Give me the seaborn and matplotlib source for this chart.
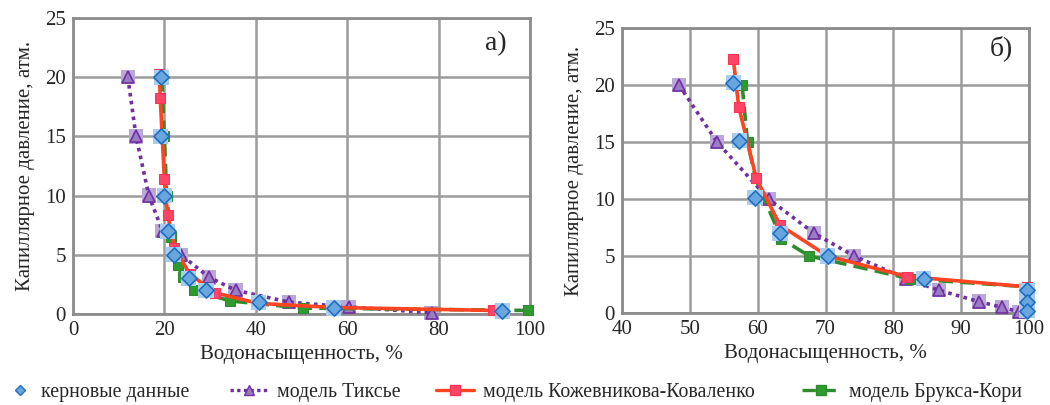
import numpy as np
import matplotlib
matplotlib.use('Agg')
import matplotlib.pyplot as plt
import seaborn as sns
from matplotlib.lines import Line2D

# --- панель а) ---
a_core_x = [19.3, 19.2, 20.0, 20.7, 22.0, 25.3, 29.1, 40.6, 57.0, 93.9]
a_core_y = [20.0, 15.0, 10.0, 7.0, 5.0, 3.0, 2.0, 1.0, 0.5, 0.25]
a_tix_x = [12.0, 13.8, 16.6, 19.6, 23.6, 29.8, 35.6, 47.3, 60.3, 78.5]
a_tix_y = [20.0, 15.0, 10.0, 7.0, 5.0, 3.1, 2.0, 1.0, 0.6, 0.1]
a_koz_x = [18.9, 19.1, 20.0, 20.7, 22.2, 25.5, 31.0, 40.5, 57.0, 92.0]
a_koz_y = [20.3, 18.2, 11.4, 8.4, 5.6, 3.4, 1.8, 0.9, 0.55, 0.3]
a_bc_x = [19.4, 20.0, 20.5, 21.5, 22.9, 24.0, 26.5, 34.4, 50.3, 99.6]
a_bc_y = [20.0, 15.0, 10.0, 6.5, 4.1, 3.1, 2.0, 1.1, 0.5, 0.3]
a_xticks = [0, 20, 40, 60, 80, 100]

# --- панель б) ---
b_core_x = [56.4, 57.3, 59.6, 63.3, 70.3, 84.5, 99.7, 99.7, 99.7]
b_core_y = [20.2, 15.1, 10.1, 7.0, 5.0, 3.0, 2.0, 1.0, 0.2]
b_tix_x = [48.4, 54.0, 61.6, 68.3, 74.2, 81.9, 86.7, 92.6, 96.0, 98.5]
b_tix_y = [20.0, 15.0, 10.0, 7.0, 5.0, 3.0, 2.0, 1.0, 0.5, 0.1]
b_koz_x = [56.4, 57.2, 59.8, 63.3, 70.3, 82.0, 99.7]
b_koz_y = [22.3, 18.1, 11.8, 7.7, 5.0, 3.2, 2.3]
b_bc_x = [57.7, 58.5, 59.7, 63.5, 67.6, 82.5, 99.7]
b_bc_y = [20.0, 15.0, 11.8, 6.5, 5.0, 3.0, 2.3]
b_xticks = [40, 50, 60, 70, 80, 90, 100]

yticks = [0, 5, 10, 15, 20, 25]

lab_core = 'керновые данные'
lab_tix = 'модель Тиксье'
lab_koz = 'модель Кожевникова-Коваленко'
lab_bc = 'модель Брукса-Кори'

c_core, c_core_e = '#6aa6de', '#1f6fc0'
c_tix = '#7030a0'
c_koz = '#ff4422'
c_bc = '#2e8b2e'

sns.set_style('white')
ff = 'Liberation Serif'
plt.rcParams['font.family'] = [ff, 'DejaVu Serif']
fs = 15

fig = plt.figure(figsize=(10.5, 4.05), dpi=100)
ax1 = fig.add_axes([0.0695, 0.2247, 0.4353, 0.7309])
ax2 = fig.add_axes([0.5924, 0.2272, 0.3876, 0.7037])


def draw(ax, cx, cy, tx, ty, kx, ky, bx, by):
    sns.scatterplot(x=tx, y=ty, ax=ax, marker='s', s=110, color='#b9a8d8',
                    edgecolor='none', zorder=2, clip_on=False)
    sns.lineplot(x=tx, y=ty, sort=False, ax=ax, color=c_tix, linestyle=(0, (1, 1.2)),
                 lw=2.6, marker='^', ms=8, mfc='#9a7cc4', mec=c_tix, mew=1.2,
                 zorder=3, clip_on=False)
    sns.lineplot(x=bx, y=by, sort=False, ax=ax, color=c_bc, linestyle=(0, (4, 2)),
                 lw=2.6, marker='s', ms=7, mfc='#2f9a2f', mec=c_bc,
                 zorder=4, clip_on=False)
    sns.lineplot(x=kx, y=ky, sort=False, ax=ax, color=c_koz, linestyle='-',
                 lw=2.6, marker='s', ms=7, mfc='#ff4466', mec='#ff3355',
                 zorder=5, clip_on=False)
    sns.scatterplot(x=cx, y=cy, ax=ax, marker='s', s=120, color='#a9cdef',
                    edgecolor='none', zorder=6, clip_on=False)
    sns.scatterplot(x=cx, y=cy, ax=ax, marker='D', s=60, color=c_core,
                    edgecolor=c_core_e, linewidth=1.2, zorder=7, clip_on=False)
    ax.set_ylim(0, 25)
    ax.set_yticks(yticks, labels=[str(t) for t in yticks], fontsize=fs, family=ff)
    ax.grid(True, color='#9c9c9c', lw=1.8)
    for s in ax.spines.values():
        s.set_color('#8c8c8c')
        s.set_linewidth(2)
    ax.tick_params(length=0, pad=5)
    ax.set_xlabel('Водонасыщенность, %', fontsize=fs, family=ff, labelpad=4)
    ax.set_ylabel('Капиллярное давление, атм.', fontsize=fs, family=ff, labelpad=7)


draw(ax1, a_core_x, a_core_y, a_tix_x, a_tix_y, a_koz_x, a_koz_y, a_bc_x, a_bc_y)
ax1.set_xlim(0, 100)
ax1.set_xticks(a_xticks, labels=[str(t) for t in a_xticks], fontsize=fs, family=ff)
ax1.text(0.926, 0.912, 'а)', transform=ax1.transAxes, ha='center', va='center',
         fontsize=20, family=ff)

draw(ax2, b_core_x, b_core_y, b_tix_x, b_tix_y, b_koz_x, b_koz_y, b_bc_x, b_bc_y)
ax2.set_xlim(40, 100)
ax2.set_xticks(b_xticks, labels=[str(t) for t in b_xticks], fontsize=fs, family=ff)
ax2.text(0.931, 0.93, 'б)', transform=ax2.transAxes, ha='center', va='center',
         fontsize=20, family=ff)

# легенда: четыре отдельных блока вдоль нижнего края
entries = [
    (Line2D([], [], ls='none', marker='D', ms=5.5, mfc=c_core, mec=c_core_e),
     lab_core, 8 / 1050, 1.2),
    (Line2D([], [], color=c_tix, ls=(0, (1, 1)), lw=2.4, marker='^', ms=7,
            mfc='#9a7cc4', mec=c_tix), lab_tix, 230 / 1050, 1.9),
    (Line2D([], [], color=c_koz, ls='-', lw=2.4, marker='s', ms=6.5,
            mfc='#ff4466', mec='#ff3355'), lab_koz, 436 / 1050, 1.9),
    (Line2D([], [], color=c_bc, ls=(0, (4, 2)), lw=2.4, marker='s', ms=6.5,
            mfc='#2f9a2f', mec=c_bc), lab_bc, 802 / 1050, 1.9),
]
for h, lab, x0, hl in entries:
    fig.legend([h], [lab], loc='center left', bbox_to_anchor=(x0, 0.032),
               frameon=False, prop={'family': ff, 'size': 14.3}, handlelength=hl,
               handletextpad=0.45, borderpad=0, borderaxespad=0)

fig.savefig('out.png', dpi=100)
